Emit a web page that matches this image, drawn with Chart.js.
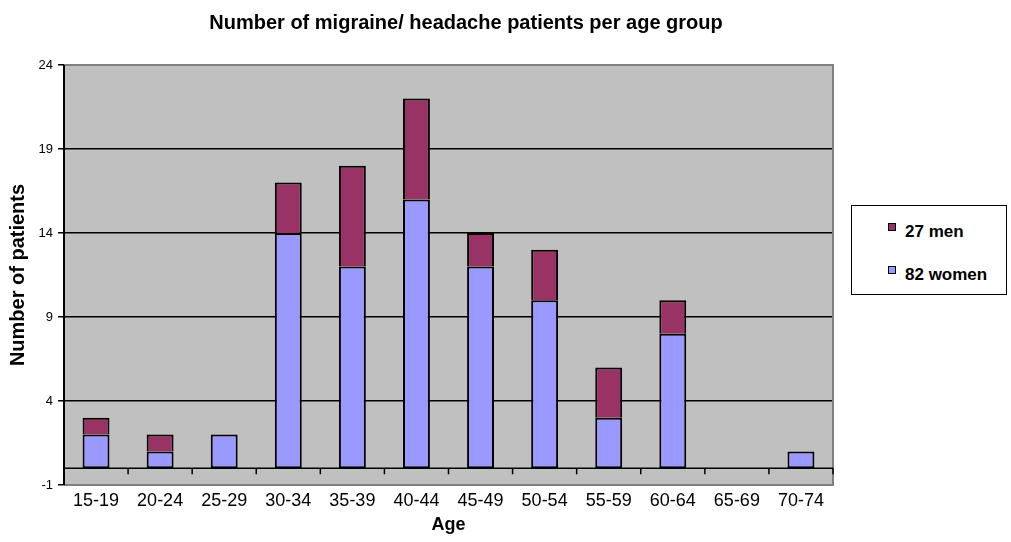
<!DOCTYPE html>
<html lang="en">
<head>
    <meta charset="UTF-8">
    <title>Migraine / headache patients per age group</title>
    <script src="https://cdn.jsdelivr.net/npm/chart.js"></script>
    <style>
        body { margin: 0; background: #fff; }
        .wrap { position: relative; width: 1011px; height: 542px; }
        #legenda {
            position: absolute; left: 851px; top: 205px; width: 156px; height: 90px;
            border: 1.5px solid #000; background: #fff; box-sizing: border-box;
            font-family: "Liberation Sans", Arial, sans-serif; font-weight: bold; font-size: 17px;
        }
        #legenda div { position: absolute; left: 36px; line-height: 20px; }
        #legenda span.box {
            display: inline-block; width: 6px; height: 6px; border: 1px solid #000;
            margin-right: 9px; vertical-align: 6px;
        }
    </style>
</head>
<body>
<div class="wrap">
    <canvas id="grafico" width="1011" height="542"></canvas>
    <div id="legenda"></div>
</div>

<script>
    // dados do grafico
    const faixas = ['15-19', '20-24', '25-29', '30-34', '35-39', '40-44', '45-49', '50-54', '55-59', '60-64', '65-69', '70-74'];
    const mulheres = [2, 1, 2, 14, 12, 16, 12, 10, 3, 8, 0, 1];
    const homens = [1, 1, 0, 3, 6, 6, 2, 3, 3, 2, 0, 0];
    const nomesSeries = ['82 women', '27 men'];
    const ticksY = [-1, 4, 9, 14, 19, 24];
    const titulo = 'Number of migraine/ headache patients per age group';

    const fonte = '"Liberation Sans", Arial, sans-serif';

    // fundo cinza, borda da area, linha do zero e titulo
    const fundoPlot = {
        id: 'fundoPlot',
        beforeDraw(chart) {
            const a = chart.chartArea;
            const ctx = chart.ctx;
            ctx.save();
            ctx.fillStyle = '#C0C0C0';
            ctx.fillRect(a.left, a.top, a.right - a.left, a.bottom - a.top);
            ctx.restore();
        },
        afterDatasetsDraw(chart) {
            const a = chart.chartArea;
            const ctx = chart.ctx;
            const x = chart.scales.x;
            const y0 = chart.scales.y.getPixelForValue(0);
            const passo = x.getPixelForValue(1) - x.getPixelForValue(0);
            ctx.save();
            // borda cinza
            ctx.strokeStyle = '#808080';
            ctx.lineWidth = 2;
            ctx.beginPath();
            ctx.moveTo(a.left, a.top);
            ctx.lineTo(a.right, a.top);
            ctx.lineTo(a.right, a.bottom);
            ctx.lineTo(a.left, a.bottom);
            ctx.stroke();
            // linha do zero com marcas entre categorias
            ctx.strokeStyle = '#000';
            ctx.lineWidth = 1.5;
            ctx.beginPath();
            ctx.moveTo(a.left, y0);
            ctx.lineTo(a.right, y0);
            for (let i = 0; i < faixas.length; i++) {
                const xb = x.getPixelForValue(i) + passo / 2;
                ctx.moveTo(xb, y0);
                ctx.lineTo(xb, y0 + 6);
            }
            ctx.stroke();
            // eixo y
            ctx.lineWidth = 2;
            ctx.beginPath();
            ctx.moveTo(a.left, a.top);
            ctx.lineTo(a.left, a.bottom);
            ctx.stroke();
            ctx.restore();
        },
        afterDraw(chart) {
            const ctx = chart.ctx;
            ctx.save();
            ctx.fillStyle = '#000';
            ctx.font = 'bold 20px ' + fonte;
            ctx.textAlign = 'center';
            ctx.textBaseline = 'middle';
            ctx.fillText(titulo, 466, 23);
            ctx.restore();
        }
    };

    const grafico = new Chart(document.getElementById('grafico'), {
        type: 'bar',
        data: {
            labels: faixas,
            datasets: [{
                label: nomesSeries[0],
                data: mulheres,
                backgroundColor: '#9999FF',
                borderColor: '#000',
                borderWidth: 2,
                borderSkipped: false,
                categoryPercentage: 1,
                barPercentage: 0.42
            }, {
                label: nomesSeries[1],
                data: homens,
                backgroundColor: '#993366',
                borderColor: '#000',
                borderWidth: 2,
                borderSkipped: 'bottom',
                categoryPercentage: 1,
                barPercentage: 0.42
            }]
        },
        options: {
            responsive: false,
            animation: false,
            layout: { padding: { top: 65, right: 178, left: 0, bottom: 0 } },
            plugins: {
                legend: { display: false },
                tooltip: { enabled: false }
            },
            scales: {
                x: {
                    stacked: true,
                    grid: { display: false, drawTicks: false },
                    border: { display: false },
                    ticks: { color: '#000', font: { family: fonte, size: 18 }, padding: 5, maxRotation: 0, autoSkip: false },
                    title: { display: true, text: 'Age', color: '#000', font: { family: fonte, size: 18, weight: 'bold' }, padding: { top: 0, bottom: 6 } },
                    afterFit(s) { s.height = 57; }
                },
                y: {
                    stacked: true,
                    min: -1,
                    max: 24,
                    afterBuildTicks(s) { s.ticks = ticksY.map(v => ({ value: v })); },
                    grid: {
                        color: c => (c.tick && (c.tick.value === -1 || c.tick.value === 24)) ? 'rgba(0,0,0,0)' : '#000',
                        tickColor: '#000',
                        tickLength: 6,
                        lineWidth: 1.5
                    },
                    border: { display: false },
                    ticks: { color: '#000', font: { family: fonte, size: 13 }, padding: 5 },
                    title: { display: true, text: 'Number of patients', color: '#000', font: { family: fonte, size: 20, weight: 'bold' }, padding: { top: 6, bottom: 0 } },
                    afterFit(s) { s.width = 64; }
                }
            }
        },
        plugins: [fundoPlot]
    });

    // legenda em html, homens em cima
    const legenda = document.getElementById('legenda');
    [1, 0].forEach((i, pos) => {
        const ds = grafico.data.datasets[i];
        const item = document.createElement('div');
        item.style.top = (pos === 0 ? 16 : 59) + 'px';
        item.innerHTML = '<span class="box" style="background:' + ds.backgroundColor + '"></span>' + ds.label;
        legenda.appendChild(item);
    });
</script>
</body>
</html>
